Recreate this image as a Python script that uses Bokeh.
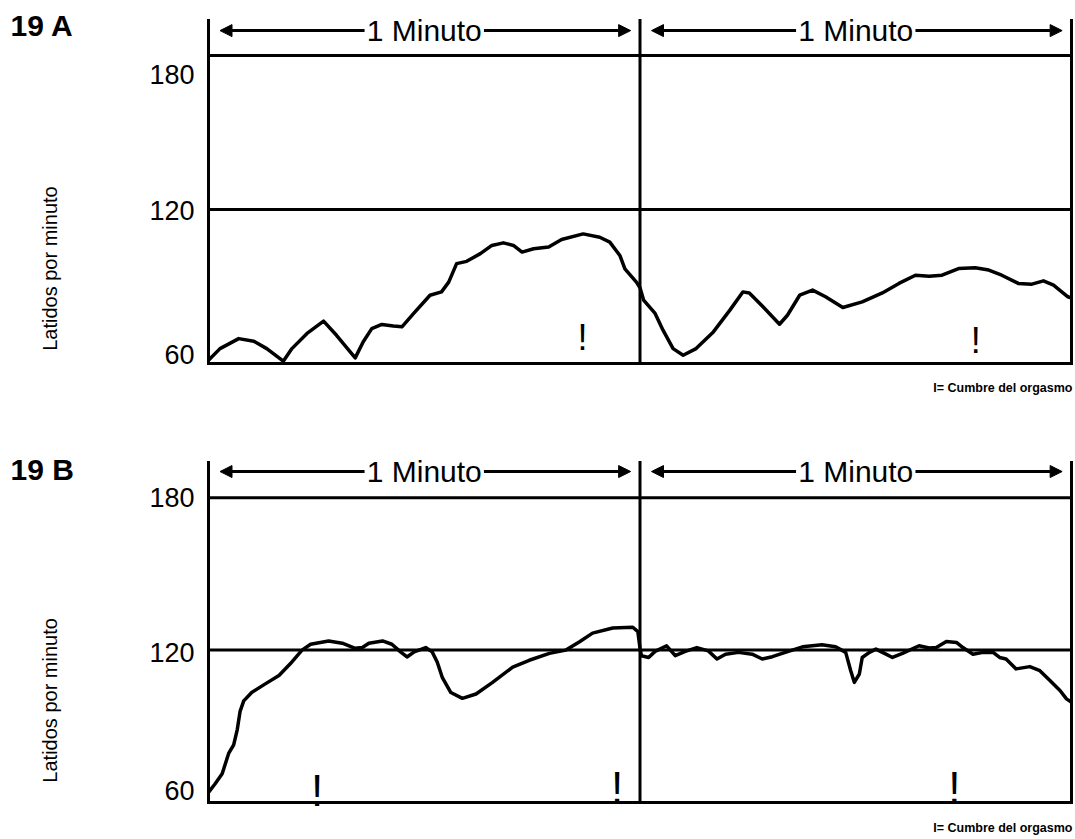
import math
from bokeh.plotting import figure
from bokeh.models import Arrow, NormalHead, Label
from bokeh.layouts import column
from bokeh.core.properties import value
from bokeh.embed import file_html
from bokeh.resources import INLINE

# ---------------- data ----------------
minute_marks = [0, 60, 120]          # seconds: start, 1 min, 2 min
minute_centers = [30, 90]
minute_text = ["1 Minuto", "1 Minuto"]
y_ticks = [60, 120, 180]
y_tick_labels = ["60", "120", "180"]
grid_levels = [60, 120, 180]

# Panel 19 A : time (s) / heart rate (latidos por minuto)
a_t = [0.0, 1.6, 4.2, 6.3, 8.1, 10.4, 11.6, 13.7, 16.0, 17.8,
       20.4, 21.5, 22.7, 24.1, 25.7, 26.9, 28.5, 30.8, 32.4, 33.4,
       34.5, 35.9, 37.8, 39.4, 41.0, 42.4, 43.6, 45.2, 47.3, 49.1,
       52.1, 54.4, 55.8, 57.2, 57.9, 59.5, 60.0, 60.5, 62.1, 63.2,
       64.6, 66.0, 67.8, 70.2, 72.5, 74.3, 75.2, 77.1, 79.4, 80.5,
       82.2, 84.0, 85.8, 88.2, 90.9, 93.7, 96.0, 98.3, 100.2, 102.0,
       104.3, 106.6, 108.5, 110.3, 112.6, 114.5, 116.1, 117.5, 119.5, 120.0]
a_bpm = [61.3, 65.8, 69.7, 68.7, 65.8, 60.9, 65.8, 71.7, 76.5, 71.0,
         62.2, 68.4, 73.6, 75.2, 74.6, 74.3, 79.4, 86.6, 87.9, 91.7,
         98.9, 99.8, 102.8, 106.0, 107.0, 106.0, 103.4, 104.7, 105.4, 108.3,
         110.5, 109.2, 107.3, 102.1, 96.9, 91.7, 89.5, 84.7, 79.5, 73.0,
         65.8, 63.2, 65.8, 72.3, 80.8, 87.9, 87.5, 82.1, 75.3, 78.8,
         86.6, 88.6, 86.0, 81.8, 84.0, 87.5, 91.2, 94.4, 94.0, 94.4,
         97.0, 97.3, 96.4, 94.4, 91.2, 90.9, 92.2, 90.5, 86.0, 85.5]
a_peak_t = [52.0, 106.7]
a_peak_bpm = [70.1, 69.0]

# Panel 19 B
b_t = [0.0, 0.9, 1.9, 2.8, 3.5, 4.0, 4.4, 4.9, 6.0, 7.9,
       9.8, 11.4, 13.0, 14.2, 16.7, 18.6, 20.4, 21.4, 22.3, 24.2,
       25.5, 26.7, 27.6, 28.6, 30.2, 31.1, 31.8, 32.5, 33.7, 35.3,
       37.2, 39.5, 42.3, 44.6, 47.4, 49.7, 51.6, 53.4, 56.2, 59.0,
       59.7, 60.0, 60.2, 61.2, 62.1, 63.7, 64.9, 66.3, 67.9, 69.5,
       70.7, 71.9, 73.7, 75.6, 77.0, 78.4, 80.2, 82.6, 85.3, 87.2,
       88.6, 89.3, 89.8, 90.5, 90.9, 91.9, 92.8, 94.2, 95.1, 96.5,
       98.8, 100.2, 101.2, 102.6, 104.0, 104.9, 106.3, 107.7, 109.1, 110.0,
       110.9, 112.3, 114.2, 115.6, 117.0, 118.4, 119.3, 120.0]
b_bpm = [64.0, 67.3, 71.3, 79.3, 82.7, 88.7, 96.0, 100.0, 103.3, 106.7,
         110.0, 114.7, 120.0, 122.3, 123.6, 122.7, 120.7, 121.0, 122.7, 123.6,
         122.3, 119.3, 117.3, 119.3, 121.0, 119.3, 115.3, 109.3, 103.3, 101.0,
         102.7, 107.3, 113.3, 116.0, 118.7, 120.0, 123.3, 126.7, 128.7, 129.0,
         127.3, 120.7, 117.8, 117.1, 119.5, 121.7, 117.8, 119.5, 121.0, 119.7,
         116.5, 118.4, 119.1, 118.4, 116.5, 117.4, 119.1, 121.3, 122.1, 121.3,
         119.1, 111.9, 107.3, 110.6, 117.1, 119.1, 120.4, 118.4, 117.1, 118.7,
         121.7, 120.8, 121.0, 123.4, 123.0, 121.0, 118.4, 119.1, 119.1, 117.1,
         116.5, 112.6, 113.5, 111.9, 108.0, 104.1, 100.8, 99.5]
b_peak_t = [15.1, 56.8, 103.7]
b_peak_bpm = [64.7, 65.9, 65.9]

panel_titles = ["19 A", "19 B"]
y_title = "Latidos por minuto"
caption = "I= Cumbre del orgasmo"

# ---------------- layout constants ----------------
FONT = "Liberation Sans"
W = 1074
X0_PX = 208.0              # pixel of t = 0
PX_PER_S = 7.1917          # 863 px for 120 s
X_RANGE = (-X0_PX / PX_PER_S, (W - X0_PX) / PX_PER_S)


def make_panel(t, bpm, peak_t, peak_bpm, title, height, y60_px, px_per_bpm,
               y_top, arrow_y, ylab_y, title_dy, cap_dy, tick_dy, peak_size):
    y_hi = 60 + y60_px / px_per_bpm
    y_lo = 60 - (height - y60_px) / px_per_bpm
    p = figure(width=W, height=height, x_range=X_RANGE, y_range=(y_lo, y_hi),
               min_border=0, x_axis_location=None, y_axis_location=None,
               toolbar_location=None, output_backend="svg",
               outline_line_color=None,
               background_fill_color="white", border_fill_color="white")
    p.grid.visible = False

    n = len(grid_levels)
    # horizontal reference lines (60 / 120 / 180)
    p.segment(x0=[minute_marks[0]] * n, y0=grid_levels,
              x1=[minute_marks[-1]] * n, y1=grid_levels,
              line_color="black", line_width=3, line_cap="square")
    # vertical minute lines
    m = len(minute_marks)
    p.segment(x0=minute_marks, y0=[grid_levels[0]] * m,
              x1=minute_marks, y1=[y_top] * m,
              line_color="black", line_width=3, line_cap="square")

    # heart-rate trace
    p.line(t, bpm, line_color="black", line_width=3.5, line_join="round")

    # orgasm peak markers
    p.text(x=peak_t, y=peak_bpm, text=["!"] * len(peak_t),
           text_font=value(FONT), text_font_size=value(peak_size),
           text_align="center", text_baseline="alphabetic", text_color="black")

    # "1 Minuto" with arrows
    p.text(x=minute_centers, y=[arrow_y] * len(minute_centers), text=minute_text,
           text_font=value(FONT), text_font_size=value("30px"),
           text_align="center", text_baseline="middle", text_color="black")
    for i, c in enumerate(minute_centers):
        start, end = minute_marks[i], minute_marks[i + 1]
        p.add_layout(Arrow(end=NormalHead(size=12, fill_color="black", line_color="black"),
                           x_start=c - 8.3, y_start=arrow_y, x_end=start + 1.6, y_end=arrow_y,
                           line_width=3, line_color="black"))
        p.add_layout(Arrow(end=NormalHead(size=12, fill_color="black", line_color="black"),
                           x_start=c + 8.3, y_start=arrow_y, x_end=end - 1.3, y_end=arrow_y,
                           line_width=3, line_color="black"))

    # tick labels
    for tv, tl, dy in zip(y_ticks, y_tick_labels, tick_dy):
        p.add_layout(Label(x=minute_marks[0], y=tv, x_offset=-14, y_offset=dy, text=tl,
                           text_font=FONT, text_font_size="27px",
                           text_align="right", text_baseline="middle", text_color="black"))

    # panel title, axis title, caption
    p.add_layout(Label(x=minute_marks[0], y=y_top, x_offset=-198, y_offset=title_dy, text=title,
                       text_font=FONT, text_font_size="30px", text_font_style="bold",
                       text_align="left", text_baseline="middle", text_color="black"))
    p.add_layout(Label(x=minute_marks[0], y=ylab_y, x_offset=-159, y_offset=0, text=y_title,
                       angle=math.pi / 2, text_font=FONT, text_font_size="20px",
                       text_align="center", text_baseline="middle", text_color="black"))
    p.add_layout(Label(x=minute_marks[-1], y=grid_levels[0], x_offset=1, y_offset=cap_dy,
                       text=caption, text_font=FONT, text_font_size="12.5px",
                       text_font_style="bold", text_align="right",
                       text_baseline="middle", text_color="black"))
    return p


pA = make_panel(a_t, a_bpm, a_peak_t, a_peak_bpm, panel_titles[0],
                height=430, y60_px=363, px_per_bpm=2.5667,
                y_top=193.6, arrow_y=189.7, ylab_y=97.0,
                title_dy=-5, cap_dy=-24, tick_dy=[9, -1, -19], peak_size="36px")
pB = make_panel(b_t, b_bpm, b_peak_t, b_peak_bpm, panel_titles[1],
                height=405, y60_px=372, px_per_bpm=2.54,
                y_top=193.9, arrow_y=190.3, ylab_y=100.2,
                title_dy=-7, cap_dy=-25, tick_dy=[12, -2, 0], peak_size="44px")

layout = column(pA, pB)
open("out.html", "w").write(file_html(layout, INLINE))
